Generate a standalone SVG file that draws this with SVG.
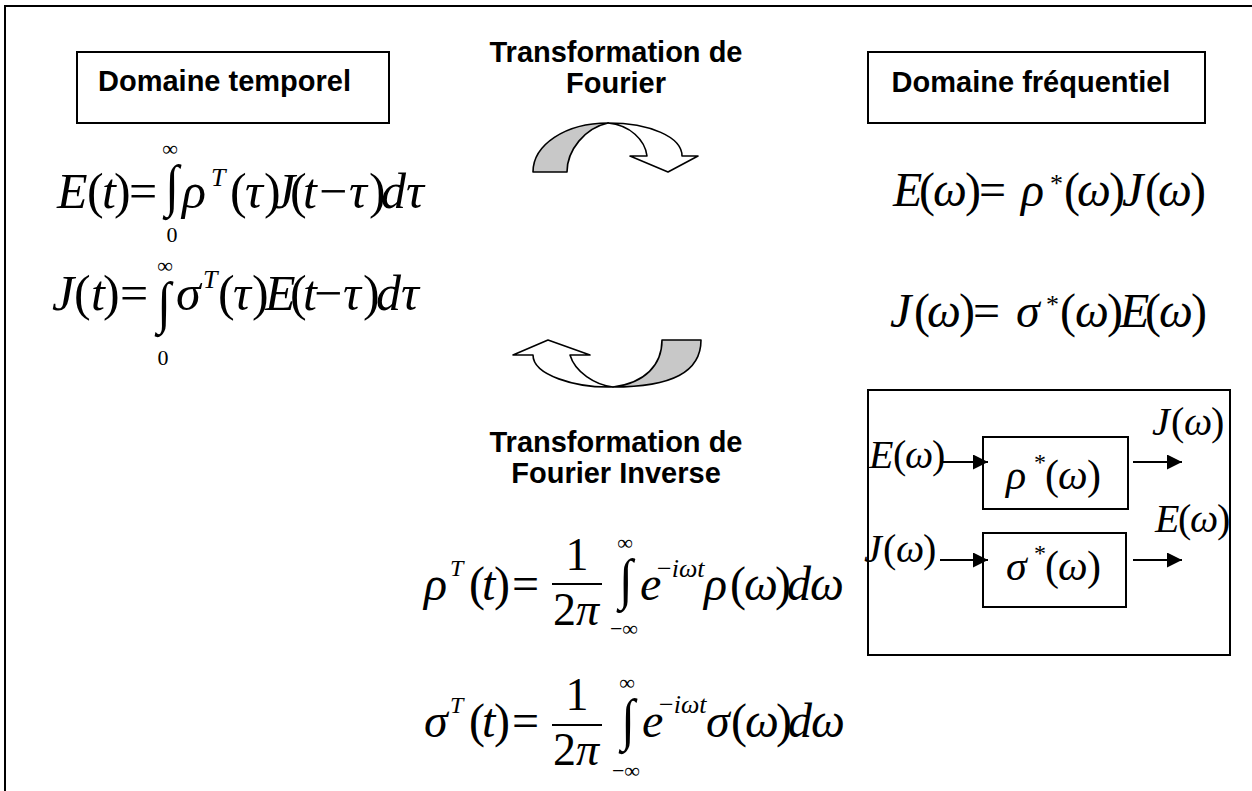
<svg xmlns="http://www.w3.org/2000/svg" width="1252" height="791" viewBox="0 0 1252 791">
<defs>
<style>
.frame{fill:none;stroke:#000;stroke-width:2}
.box{fill:#fff;stroke:#000;stroke-width:2}
.lbl{font-family:"Liberation Sans",Arial,sans-serif;font-weight:bold;font-size:29px;fill:#000}
.m{font-family:"Liberation Serif","Times New Roman",serif;font-style:italic;fill:#000}
.u{font-style:normal}
.int{font-family:"Liberation Serif","Times New Roman",serif;font-size:50px;fill:#000}
.lim{font-family:"Liberation Serif","Times New Roman",serif;font-size:22px;fill:#000}
.conn{fill:none;stroke:#000;stroke-width:2}
.curv{stroke:#000;stroke-width:1.6;stroke-linejoin:round}
</style>
<marker id="ah" markerUnits="userSpaceOnUse" markerWidth="16" markerHeight="16" refX="15" refY="7.5" orient="auto">
<path d="M0,0 L15,7.5 L0,15 Z" fill="#000"/>
</marker>
</defs>
<rect width="1252" height="791" fill="#fff"/>
<path class="frame" d="M5,791 V6 H1252"/>

<g id="domaine-temporel">
<rect class="box" x="77" y="52" width="312" height="71"/>
<text class="lbl" x="224.5" y="91" text-anchor="middle">Domaine temporel</text>
</g>

<g id="domaine-frequentiel">
<rect class="box" x="868" y="52" width="337" height="71"/>
<text class="lbl" x="1031" y="92" text-anchor="middle">Domaine fréquentiel</text>
</g>

<g id="titre-tf">
<text class="lbl" x="616" y="62" text-anchor="middle">Transformation de</text>
<text class="lbl" x="616" y="93" text-anchor="middle">Fourier</text>
</g>

<g id="titre-tfi">
<text class="lbl" x="616" y="452" text-anchor="middle">Transformation de</text>
<text class="lbl" x="616" y="483" text-anchor="middle">Fourier Inverse</text>
</g>

<g id="fleche-tf">
<path class="curv" fill="#c8c8c8" d="M533,172 C533,145 565,123 608,123 C585,128 567,150 567,172 Z"/>
<path class="curv" fill="#fff" d="M608,123 C650,123 682,137 682,156 L698,156 L668,172 L630,156 L647,156 C645,140 630,125 608,123 Z"/>
</g>

<g id="fleche-tfi">
<path class="curv" fill="#c8c8c8" d="M662,340 L701,340 C701,372 672,387 613,387 C645,383 662,365 662,340 Z"/>
<path class="curv" fill="#fff" d="M613,387 C575,388 533,375 533,355 L513,355 L548,340 L590,355 L570,355 C575,372 595,385 613,387 Z"/>
</g>

<g id="eq-E-t">
<text class="m" font-size="50" y="208"><tspan x="57">E</tspan><tspan class="u" x="87">(</tspan><tspan x="102">t</tspan><tspan class="u" x="114">)</tspan><tspan class="u" x="129">=</tspan><tspan x="182">ρ</tspan><tspan class="u" x="230">(</tspan><tspan x="245">τ</tspan><tspan class="u" x="264">)</tspan><tspan x="273">J</tspan><tspan class="u" x="290">(</tspan><tspan x="303">t</tspan><tspan class="u" x="319">−</tspan><tspan x="349">τ</tspan><tspan class="u" x="369">)</tspan><tspan x="381">d</tspan><tspan x="406">τ</tspan></text>
<text class="m" font-size="26" x="211" y="186">T</text>
<text class="int" transform="translate(172,205) scale(1,1.15)" text-anchor="middle">∫</text>
<text class="lim" x="170" y="156" text-anchor="middle">∞</text>
<text class="lim" x="172" y="242" text-anchor="middle">0</text>
</g>

<g id="eq-J-t">
<text class="m" font-size="50" y="310"><tspan x="52">J</tspan><tspan class="u" x="74">(</tspan><tspan x="91">t</tspan><tspan class="u" x="103">)</tspan><tspan class="u" x="120">=</tspan><tspan x="176">σ</tspan><tspan class="u" x="218">(</tspan><tspan x="233">τ</tspan><tspan class="u" x="252">)</tspan><tspan x="265">E</tspan><tspan class="u" x="290">(</tspan><tspan x="303">t</tspan><tspan class="u" x="314">−</tspan><tspan x="343">τ</tspan><tspan class="u" x="363">)</tspan><tspan x="376">d</tspan><tspan x="401">τ</tspan></text>
<text class="m" font-size="26" x="203" y="288">T</text>
<text class="int" transform="translate(164,322) scale(1,1.15)" text-anchor="middle">∫</text>
<text class="lim" x="165" y="273" text-anchor="middle">∞</text>
<text class="lim" x="163" y="365" text-anchor="middle">0</text>
</g>

<g id="eq-E-omega">
<text class="m" font-size="48" y="206"><tspan x="893">E</tspan><tspan class="u" x="919">(</tspan><tspan x="933">ω</tspan><tspan class="u" x="965">)</tspan><tspan class="u" x="979">=</tspan><tspan x="1021">ρ</tspan><tspan class="u" x="1064">(</tspan><tspan x="1077">ω</tspan><tspan class="u" x="1109">)</tspan><tspan x="1122">J</tspan><tspan class="u" x="1145">(</tspan><tspan x="1158">ω</tspan><tspan class="u" x="1190">)</tspan></text>
<text class="m u" font-size="26" x="1050" y="192">*</text>
</g>

<g id="eq-J-omega">
<text class="m" font-size="48" y="327"><tspan x="890">J</tspan><tspan class="u" x="914">(</tspan><tspan x="927">ω</tspan><tspan class="u" x="959">)</tspan><tspan class="u" x="973">=</tspan><tspan x="1016">σ</tspan><tspan class="u" x="1060">(</tspan><tspan x="1075">ω</tspan><tspan class="u" x="1107">)</tspan><tspan x="1120">E</tspan><tspan class="u" x="1145">(</tspan><tspan x="1159">ω</tspan><tspan class="u" x="1191">)</tspan></text>
<text class="m u" font-size="26" x="1046" y="313">*</text>
</g>

<g id="eq-rho-T">
<text class="m" font-size="48" y="600"><tspan x="424">ρ</tspan><tspan class="u" x="469">(</tspan><tspan x="482">t</tspan><tspan class="u" x="494">)</tspan><tspan class="u" x="512">=</tspan><tspan x="640">e</tspan><tspan x="704">ρ</tspan><tspan class="u" x="730">(</tspan><tspan x="744">ω</tspan><tspan class="u" x="775">)</tspan><tspan x="787">d</tspan><tspan x="810">ω</tspan></text>
<text class="m" font-size="24" x="450" y="576">T</text>
<text class="m u" font-size="46" x="577" y="570" text-anchor="middle">1</text>
<line x1="552" y1="584" x2="602" y2="584" stroke="#000" stroke-width="2"/>
<text class="m" font-size="46" y="625"><tspan class="u" x="553">2</tspan><tspan x="576">π</tspan></text>
<text class="int" transform="translate(626,598) scale(1,1.12)" text-anchor="middle">∫</text>
<text class="lim" x="625" y="550" text-anchor="middle">∞</text>
<text class="lim" x="624" y="636" text-anchor="middle">−∞</text>
<text class="m" font-size="26" y="577"><tspan class="u" x="657">−</tspan><tspan>iωt</tspan></text>
</g>

<g id="eq-sigma-T">
<text class="m" font-size="48" y="737"><tspan x="424">σ</tspan><tspan class="u" x="469">(</tspan><tspan x="482">t</tspan><tspan class="u" x="494">)</tspan><tspan class="u" x="512">=</tspan><tspan x="642">e</tspan><tspan x="706">σ</tspan><tspan class="u" x="731">(</tspan><tspan x="745">ω</tspan><tspan class="u" x="776">)</tspan><tspan x="788">d</tspan><tspan x="811">ω</tspan></text>
<text class="m" font-size="24" x="450" y="713">T</text>
<text class="m u" font-size="46" x="577" y="710" text-anchor="middle">1</text>
<line x1="552" y1="725" x2="602" y2="725" stroke="#000" stroke-width="2"/>
<text class="m" font-size="46" y="765"><tspan class="u" x="553">2</tspan><tspan x="576">π</tspan></text>
<text class="int" transform="translate(628,739) scale(1,1.15)" text-anchor="middle">∫</text>
<text class="lim" x="627" y="690" text-anchor="middle">∞</text>
<text class="lim" x="626" y="778" text-anchor="middle">−∞</text>
<text class="m" font-size="26" y="713"><tspan class="u" x="659">−</tspan><tspan>iωt</tspan></text>
</g>

<g id="schema">
<rect class="box" x="868" y="390" width="362" height="265"/>
</g>

<g id="bloc-rho">
<rect class="box" x="983" y="437" width="145" height="72"/>
<text class="m" font-size="42" y="489"><tspan x="1006">ρ</tspan><tspan class="u" x="1045">(</tspan><tspan x="1058">ω</tspan><tspan class="u" x="1087">)</tspan></text>
<text class="m u" font-size="24" x="1034" y="470">*</text>
</g>

<g id="bloc-sigma">
<rect class="box" x="983" y="533" width="143" height="74"/>
<text class="m" font-size="42" y="580"><tspan x="1006">σ</tspan><tspan class="u" x="1045">(</tspan><tspan x="1058">ω</tspan><tspan class="u" x="1087">)</tspan></text>
<text class="m u" font-size="24" x="1034" y="561">*</text>
</g>

<g id="labels-schema">
<text class="m" font-size="40" y="468"><tspan x="869">E</tspan><tspan class="u" x="893">(</tspan><tspan x="905">ω</tspan><tspan class="u" x="932">)</tspan></text>
<text class="m" font-size="40" y="562"><tspan x="864">J</tspan><tspan class="u" x="883">(</tspan><tspan x="896">ω</tspan><tspan class="u" x="923">)</tspan></text>
<text class="m" font-size="40" y="435"><tspan x="1152">J</tspan><tspan class="u" x="1171">(</tspan><tspan x="1184">ω</tspan><tspan class="u" x="1211">)</tspan></text>
<text class="m" font-size="40" y="532"><tspan x="1155">E</tspan><tspan class="u" x="1178">(</tspan><tspan x="1190">ω</tspan><tspan class="u" x="1217">)</tspan></text>
</g>

<g id="connecteurs">
<line class="conn" x1="940" y1="462" x2="988" y2="462" marker-end="url(#ah)"/>
<line class="conn" x1="1133" y1="462" x2="1182" y2="462" marker-end="url(#ah)"/>
<line class="conn" x1="940" y1="560" x2="988" y2="560" marker-end="url(#ah)"/>
<line class="conn" x1="1133" y1="560" x2="1182" y2="560" marker-end="url(#ah)"/>
</g>
</svg>
